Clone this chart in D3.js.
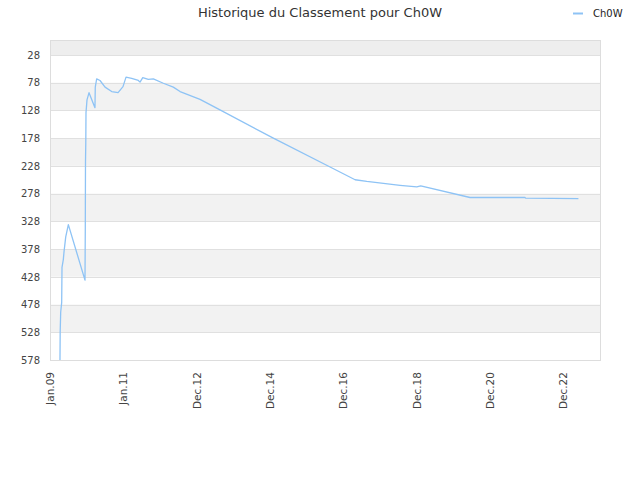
<!DOCTYPE html>
<html>
<head>
<meta charset="utf-8">
<script src="https://cdn.jsdelivr.net/npm/d3@7"></script>
<style>
  body { margin: 0; background: #fff; }
  svg { font-family: "DejaVu Sans", sans-serif; }
</style>
</head>
<body>
<svg id="chart"></svg>
<script>
// Data
const dates = [
  "2009-04-14", "2009-04-16", "2009-04-21", "2009-05-01", "2009-05-04",
  "2009-05-17", "2009-05-24", "2009-06-10", "2009-07-06", "2009-12-18",
  "2009-12-21", "2009-12-23", "2009-12-26", "2009-12-28", "2010-01-07",
  "2010-01-27", "2010-03-27", "2010-03-30", "2010-04-13", "2010-05-16",
  "2010-07-05", "2010-09-09", "2010-11-11", "2010-12-30", "2011-01-29",
  "2011-03-26", "2011-05-31", "2011-06-17", "2011-07-14", "2011-09-07",
  "2011-10-27", "2012-02-03", "2012-05-12", "2012-07-18", "2013-02-01",
  "2013-08-18", "2015-01-29", "2016-08-14", "2017-04-19", "2017-08-13",
  "2018-07-09", "2018-12-22", "2019-01-30", "2020-06-02", "2021-11-30",
  "2021-12-03", "2023-05-13"
];
const ranks = [
  578, 528, 492, 474, 411,
  397, 383, 356, 334, 434,
  343, 222, 186, 132, 109,
  96, 123, 86, 71, 74,
  86, 94, 96, 85, 68,
  70, 74, 77, 69, 72,
  71, 79, 86, 94, 108,
  127, 178, 230, 253, 256,
  263, 266, 264, 285, 285,
  286, 287
];
const yTicks = [28, 78, 128, 178, 228, 278, 328, 378, 428, 478, 528, 578];
const xTickDates = [
  "2009-01-05", "2011-01-02", "2012-12-29", "2014-12-26",
  "2016-12-22", "2018-12-19", "2020-12-15", "2022-12-12"
];
const seriesName = "Ch0W";
const title = "Historique du Classement pour " + seriesName;

// Chart Dimensions
const width = 640;
const height = 480;
const margin = { top: 40, right: 40, bottom: 120, left: 50 };
const innerW = width - margin.left - margin.right;
const innerH = height - margin.top - margin.bottom;

const parse = d3.timeParse("%Y-%m-%d");
const data = dates.map((d, i) => ({ date: parse(d), rank: ranks[i] }));

const svg = d3.select("#chart").attr("width", width).attr("height", height);

// Scales
const x = d3.scaleTime()
  .domain([parse("2009-01-05"), parse("2023-12-13")])
  .range([margin.left, margin.left + innerW]);
const y = d3.scaleLinear()
  .domain([1, 578])
  .range([margin.top, margin.top + innerH]);

// Alternating bands
const bounds = [1].concat(yTicks);
const bands = d3.pairs(bounds);
svg.append("g")
  .selectAll("rect")
  .data(bands)
  .enter()
  .append("rect")
  .attr("x", margin.left)
  .attr("width", innerW)
  .attr("y", (d) => y(d[0]))
  .attr("height", (d) => y(d[1]) - y(d[0]))
  .attr("fill", (d, i) => (i === 0 ? "#eeeeee" : i % 2 === 0 ? "#f2f2f2" : "#ffffff"));

// Grid lines
svg.append("g")
  .selectAll("line")
  .data(yTicks)
  .enter()
  .append("line")
  .attr("x1", margin.left)
  .attr("x2", margin.left + innerW)
  .attr("y1", (d) => Math.round(y(d)) + 0.5)
  .attr("y2", (d) => Math.round(y(d)) + 0.5)
  .attr("stroke", "#e0e0e0");

// Frame
svg.append("rect")
  .attr("x", margin.left + 0.5)
  .attr("y", margin.top + 0.5)
  .attr("width", innerW)
  .attr("height", innerH)
  .attr("fill", "none")
  .attr("stroke", "#dddddd");

// Y axis
const yAxis = d3.axisLeft(y).tickValues(yTicks).tickSize(0).tickPadding(10);
svg.append("g")
  .attr("transform", `translate(${margin.left},0)`)
  .call(yAxis)
  .call((g) => g.select(".domain").remove())
  .selectAll("text")
  .attr("font-size", 10)
  .attr("font-family", "DejaVu Sans")
  .attr("fill", "#444");

// X axis
const xAxis = d3.axisBottom(x)
  .tickValues(xTickDates.map(parse))
  .tickFormat(d3.timeFormat("%b.%y"))
  .tickSize(0);
svg.append("g")
  .attr("transform", `translate(0,${margin.top + innerH})`)
  .call(xAxis)
  .call((g) => g.select(".domain").remove())
  .selectAll("text")
  .attr("font-size", 10.5)
  .attr("font-family", "DejaVu Sans")
  .attr("fill", "#444")
  .attr("text-anchor", "end")
  .attr("transform", "rotate(-90)")
  .attr("x", -12)
  .attr("y", 0)
  .attr("dy", "0.35em");

// Line
const line = d3.line()
  .x((d) => x(d.date))
  .y((d) => y(d.rank));
svg.append("path")
  .datum(data)
  .attr("fill", "none")
  .attr("stroke", "#8ec3f5")
  .attr("stroke-width", 1.3)
  .attr("stroke-linejoin", "round")
  .attr("d", line);

// Title
svg.append("text")
  .attr("x", 320)
  .attr("y", 17)
  .attr("text-anchor", "middle")
  .attr("font-size", 13)
  .attr("fill", "#333")
  .text(title);

// Legend
svg.append("line")
  .attr("x1", 573)
  .attr("x2", 583)
  .attr("y1", 13.5)
  .attr("y2", 13.5)
  .attr("stroke", "#8ec3f5")
  .attr("stroke-width", 2);
svg.append("text")
  .attr("x", 593)
  .attr("y", 17)
  .attr("font-size", 10)
  .attr("fill", "#222")
  .text(seriesName);
</script>
</body>
</html>
